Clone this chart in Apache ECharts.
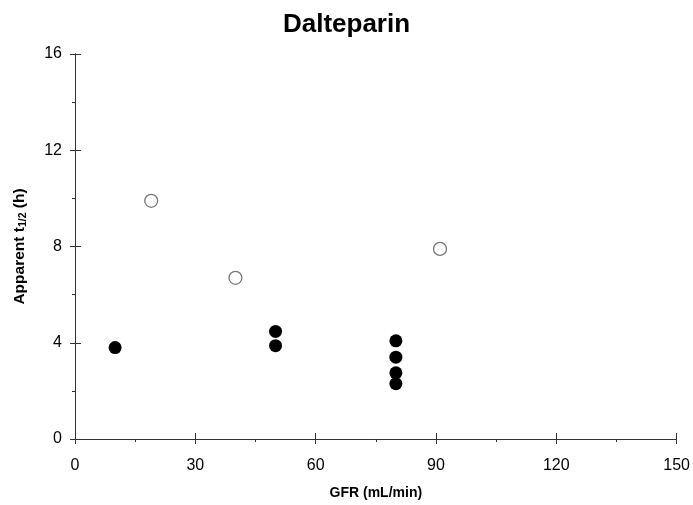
<!DOCTYPE html>
<html>
<head>
<meta charset="utf-8">
<script src="https://cdn.jsdelivr.net/npm/echarts@6/dist/echarts.min.js"></script>
<style>
html,body{margin:0;padding:0;background:#fff;}
#chart{width:693px;height:505px;}
</style>
</head>
<body>
<div id="chart"></div>
<script>
// Data
var filledGFR = [10, 50, 50, 80, 80, 80, 80];
var filledT12 = [3.8, 4.47, 3.88, 4.08, 3.4, 2.75, 2.3];
var openGFR = [19, 40, 91];
var openT12 = [9.9, 6.7, 7.9];
var xTicks = [0, 30, 60, 90, 120, 150];
var yTicks = [0, 4, 8, 12, 16];

function pairs(xs, ys) { return xs.map(function (x, i) { return [x, ys[i]]; }); }

var font = 'Liberation Sans, Arial, sans-serif';
var axisColor = '#333';

var chart = echarts.init(document.getElementById('chart'));
chart.setOption({
  animation: false,
  backgroundColor: '#fff',
  title: {
    text: 'Dalteparin', left: 'center', top: 7,
    textStyle: { fontFamily: font, fontSize: 26, fontWeight: 'bold', color: '#000' }
  },
  grid: { left: 75, right: 16, top: 54, bottom: 66 },
  xAxis: [
    {
      type: 'value', position: 'bottom', min: xTicks[0], max: xTicks[xTicks.length - 1],
      interval: xTicks[1] - xTicks[0],
      name: 'GFR (mL/min)', nameLocation: 'middle', nameGap: 47,
      nameTextStyle: { fontFamily: font, fontSize: 14, fontWeight: 'bold', color: '#000' },
      axisLine: { show: true, lineStyle: { color: axisColor } },
      axisTick: { show: true, inside: false, length: 5, lineStyle: { color: axisColor } },
      minorTick: { show: true, splitNumber: 2, length: 3, lineStyle: { color: axisColor } },
      axisLabel: { fontFamily: font, fontSize: 16, color: '#000', margin: 19 },
      splitLine: { show: false }
    },
    {
      type: 'value', position: 'bottom', min: xTicks[0], max: xTicks[xTicks.length - 1],
      interval: xTicks[1] - xTicks[0],
      axisLine: { show: true, lineStyle: { color: axisColor } },
      axisTick: { show: true, inside: true, length: 6, lineStyle: { color: axisColor } },
      axisLabel: { show: true, color: 'rgba(0,0,0,0)' },
      splitLine: { show: false }
    }
  ],
  yAxis: [
    {
      type: 'value', position: 'left', min: yTicks[0], max: yTicks[yTicks.length - 1],
      interval: yTicks[1] - yTicks[0],
      name: '{m|Apparent t}{s|1/2}{m| (h)}', nameLocation: 'middle', nameGap: 46,
      nameTextStyle: {
        fontFamily: font, fontSize: 15, fontWeight: 'bold', color: '#000',
        rich: {
          m: { fontFamily: font, fontSize: 15.5, fontWeight: 'bold', color: '#000' },
          s: { fontFamily: font, fontSize: 10.5, fontWeight: 'bold', color: '#000', padding: [7, 0, 0, 0] }
        }
      },
      axisLine: { show: true, lineStyle: { color: axisColor } },
      axisTick: { show: true, inside: false, length: 5, lineStyle: { color: axisColor } },
      minorTick: { show: true, splitNumber: 2, length: 3, lineStyle: { color: axisColor } },
      axisLabel: { fontFamily: font, fontSize: 16, color: '#000', margin: 13 },
      splitLine: { show: false }
    },
    {
      type: 'value', position: 'left', min: yTicks[0], max: yTicks[yTicks.length - 1],
      interval: yTicks[1] - yTicks[0],
      axisLine: { show: true, lineStyle: { color: axisColor } },
      axisTick: { show: true, inside: true, length: 6, lineStyle: { color: axisColor } },
      axisLabel: { show: true, color: 'rgba(0,0,0,0)' },
      splitLine: { show: false }
    }
  ],
  series: [
    {
      type: 'scatter', xAxisIndex: 0, yAxisIndex: 0,
      data: pairs(openGFR, openT12), symbol: 'circle', symbolSize: 13,
      itemStyle: { color: '#fff', borderColor: '#777', borderWidth: 1.3, opacity: 1 }
    },
    {
      type: 'scatter', xAxisIndex: 1, yAxisIndex: 1,
      data: pairs(filledGFR, filledT12), symbol: 'circle', symbolSize: 13,
      itemStyle: { color: '#000', borderWidth: 0, opacity: 1 }
    }
  ]
});
</script>
</body>
</html>
